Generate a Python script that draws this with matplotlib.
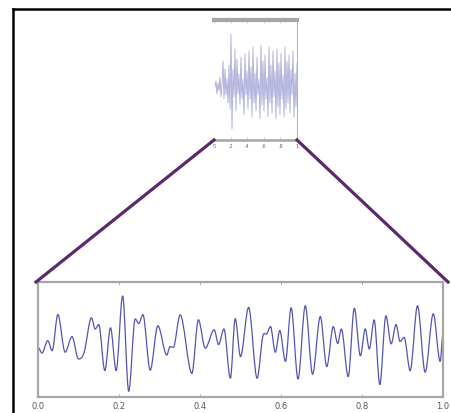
import numpy as np
import matplotlib
matplotlib.use('Agg')
import matplotlib.pyplot as plt
from matplotlib.path import Path
from matplotlib.patches import PathPatch
from matplotlib.lines import Line2D

# zoomed signal: turning points (time, amplitude)
zoom_t = [0.0, 0.010, 0.024, 0.035, 0.049, 0.067, 0.084, 0.100, 0.114, 0.132,
          0.141, 0.150, 0.165, 0.179, 0.193, 0.209, 0.224, 0.240, 0.249, 0.259,
          0.277, 0.296, 0.318, 0.326, 0.334, 0.351, 0.380, 0.396, 0.413, 0.435,
          0.446, 0.459, 0.475, 0.487, 0.500, 0.520, 0.541, 0.555, 0.565, 0.574,
          0.586, 0.597, 0.611, 0.625, 0.642, 0.660, 0.678, 0.697, 0.713, 0.729,
          0.740, 0.749, 0.766, 0.781, 0.796, 0.808, 0.818, 0.830, 0.844, 0.859,
          0.872, 0.884, 0.894, 0.904, 0.919, 0.937, 0.956, 0.976, 0.993, 1.0]
zoom_v = [0.04, -0.10, 0.21, -0.04, 0.86, -0.08, 0.31, -0.25, -0.08, 0.78,
          0.50, 0.61, -0.54, 0.53, -0.54, 1.33, -1.06, 0.75, 0.64, 0.86,
          -0.53, 0.58, -0.15, 0.06, 0.04, 0.85, -0.61, 0.73, 0.02, 0.48,
          0.11, 0.50, -0.73, 0.76, -0.19, 1.04, -0.73, 0.31, 0.38, 0.56,
          -0.08, 0.46, -0.31, 1.03, -0.75, 1.08, -0.63, 0.81, -0.44, 0.56,
          0.14, 0.50, -0.69, 1.02, -0.17, 0.50, 0.00, 0.73, -0.89, 0.83,
          0.13, 0.61, 0.19, 0.29, -0.54, 1.08, -0.58, 0.88, -0.31, 0.38]

# full (overview) signal in the small inset
full_v = [0.0, 0.6, -0.7, 0.4, -0.4, 1.0, -1.0, 0.2, 2.6, -1.2,
          1.8, -0.8, 0.8, -1.6, 2.2, -2.2, 5.3, -4.2, 1.8, -1.0,
          3.8, -2.4, 2.8, -0.7, 1.3, -1.7, 3.0, -1.2, 0.8, -2.8,
          3.3, -0.8, 1.6, -2.2, 3.6, -1.2, 2.0, -3.0, 4.0, -1.6,
          1.4, -2.4, 3.0, -0.8, 0.8, -3.2, 4.2, -1.8, 2.6, -2.4,
          3.2, -1.2, 1.0, -3.0, 4.0, -1.6, 2.2, -2.6, 3.6, -1.0,
          1.6, -3.2, 3.8, -2.0, 2.4, -2.8, 3.4, -1.2, 1.2, -3.0,
          4.0, -2.2, 2.6, -1.6, 3.2, -2.6, 1.8, -0.8, 3.6, -3.0,
          1.4, -2.0, 2.4]
full_t = np.linspace(0.012, 1.0, len(full_v))

tick_pos = [0.0, 0.2, 0.4, 0.6, 0.8, 1.0]
big_labels = ['0.0', '0.2', '0.4', '0.6', '0.8', '1.0']
small_labels = ['0', '.2', '.4', '.6', '.8', '1']

W, H = 452, 414
fig = plt.figure(figsize=(W / 100, H / 100), dpi=100)


def fx(px):
    return px / W


def fy(py):
    return 1 - py / H


def smooth_path(x, y):
    # cubic hermite through the turning points, flat at peaks
    x = np.asarray(x, float)
    y = np.asarray(y, float)
    n = len(x)
    m = np.zeros(n)
    for i in range(1, n - 1):
        if (y[i] - y[i - 1]) * (y[i + 1] - y[i]) > 0:
            m[i] = (y[i + 1] - y[i - 1]) / (x[i + 1] - x[i - 1])
    verts = [(x[0], y[0])]
    codes = [Path.MOVETO]
    for i in range(n - 1):
        dx = x[i + 1] - x[i]
        verts += [(x[i] + dx / 3, y[i] + m[i] * dx / 3),
                  (x[i + 1] - dx / 3, y[i + 1] - m[i + 1] * dx / 3),
                  (x[i + 1], y[i + 1])]
        codes += [Path.CURVE4] * 3
    return Path(verts, codes)


grey = '#a6a6a6'

# big zoomed axes
ax = fig.add_axes([fx(38), fy(398), fx(443) - fx(38), fy(283) - fy(398)])
ax.add_patch(PathPatch(smooth_path(zoom_t, zoom_v), fill=False,
                       edgecolor='#5555b0', lw=0.9))
ax.set_xlim(0, 1)
ax.set_ylim(-1.2, 1.675)
ax.set_xticks(tick_pos)
ax.set_xticklabels(big_labels, fontsize=6, color='#555555')
ax.set_yticks([])
ax.tick_params(axis='x', direction='in', length=2.5, width=0.6, color=grey,
               top=True, pad=3)
for s in ax.spines.values():
    s.set_color(grey)
    s.set_linewidth(1.6)

# small overview axes
ax2 = fig.add_axes([fx(214), fy(141), fx(297) - fx(214), fy(21) - fy(141)])
ax2.plot(full_t, full_v, color='#7070c0', lw=0.5, alpha=0.7)
ax2.set_xlim(0, 1)
ax2.set_ylim(-5.3, 6.7)
ax2.set_xticks(tick_pos)
ax2.set_xticklabels(small_labels, fontsize=3.5, color='#666666')
ax2.set_yticks([])
ax2.tick_params(axis='x', direction='in', length=2, width=0.4, color=grey,
                top=True, pad=2)
ax2.spines['left'].set_visible(False)
ax2.spines['top'].set_color(grey)
ax2.spines['top'].set_linewidth(3)
ax2.spines['bottom'].set_color(grey)
ax2.spines['bottom'].set_linewidth(1.8)
ax2.spines['right'].set_color(grey)
ax2.spines['right'].set_linewidth(0.6)

# purple connector lines
purple = '#5a2a6c'
fig.add_artist(Line2D([fx(214), fx(36)], [fy(141), fy(283)], color=purple, lw=2.3))
fig.add_artist(Line2D([fx(297), fx(448)], [fy(141), fy(283)], color=purple, lw=2.3))

# black frame (left and top edges visible)
fig.add_artist(Line2D([fx(13), fx(13)], [fy(10), -0.05], color='black', lw=1.8))
fig.add_artist(Line2D([fx(13), 1.05], [fy(10), fy(10)], color='black', lw=1.8))

fig.savefig('out.png', dpi=100)
